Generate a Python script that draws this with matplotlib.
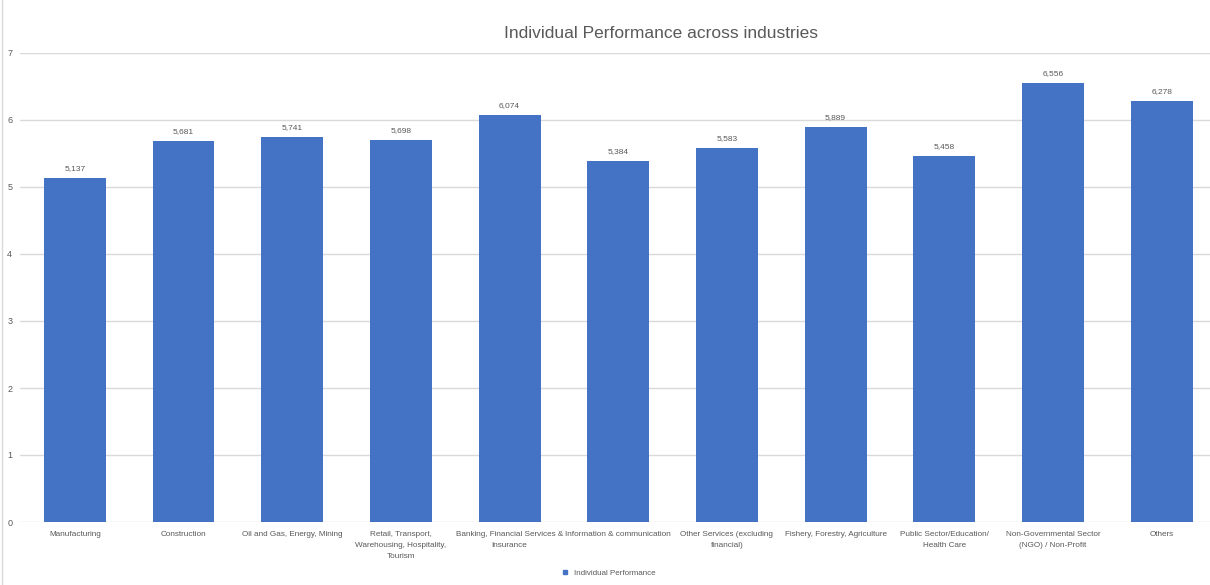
import matplotlib.pyplot as plt
from matplotlib.lines import Line2D
import numpy as np

plt.rcParams['font.family'] = ['Liberation Sans', 'DejaVu Sans']

categories = [
    "Manufacturing",
    "Construction",
    "Oil and Gas, Energy, Mining",
    "Retail, Transport,\nWarehousing, Hospitality,\nTourism",
    "Banking, Financial Services &\nInsurance",
    "Information & communication",
    "Other Services (excluding\nfinancial)",
    "Fishery, Forestry, Agriculture",
    "Public Sector/Education/\nHealth Care",
    "Non-Governmental Sector\n(NGO) / Non-Profit",
    "Others",
]
values = [5.137, 5.681, 5.741, 5.698, 6.074, 5.384, 5.583, 5.889, 5.458, 6.556, 6.278]
series_name = "Individual Performance"
title = "Individual Performance across industries"

W, H = 1210, 585
fig = plt.figure(figsize=(W / 100, H / 100), dpi=100)
ax = fig.add_axes([20.5 / W, 63 / H, (1216 - 20.5) / W, (522 - 53) / H])

bar_c = "#4472C4"
txt_c = "#595959"
x = np.arange(len(values))
bars = ax.bar(x, values, width=0.57, color=bar_c, zorder=3)

ax.set_xlim(-0.5, len(values) - 0.5)
ax.set_ylim(0, 7)
ax.set_yticks(range(0, 8))
ax.yaxis.grid(True, color="#d9d9d9", lw=1, zorder=0)
for s in ax.spines.values():
    s.set_visible(False)
ax.tick_params(axis="both", length=0, labelsize=5.9, labelcolor=txt_c)
ax.tick_params(axis="y", pad=6, labelsize=6.5)
ax.tick_params(axis="x", pad=6.5)
ax.set_xticks(x)
ax.set_xticklabels(categories, linespacing=1.8)

for b, v in zip(bars, values):
    ax.text(b.get_x() + b.get_width() / 2, v + 0.09, f"{v:.3f}".replace(".", ","),
            ha="center", va="bottom", fontsize=6, color=txt_c)

fig.text(661 / W, 1 - 33 / H, title, ha="center", va="center", fontsize=12.5, color=txt_c)

handle = Line2D([], [], marker="s", color=bar_c, ls="none", markersize=3.5)
fig.legend([handle], [series_name], loc="center", bbox_to_anchor=(606 / W, 1 - 573 / H),
           frameon=False, fontsize=5.8, labelcolor=txt_c, handletextpad=0.1)

fig.add_artist(Line2D([2 / W, 2 / W], [0, 1], color="#d9d9d9", lw=1, transform=fig.transFigure))

fig.savefig("out.png", dpi=100)
